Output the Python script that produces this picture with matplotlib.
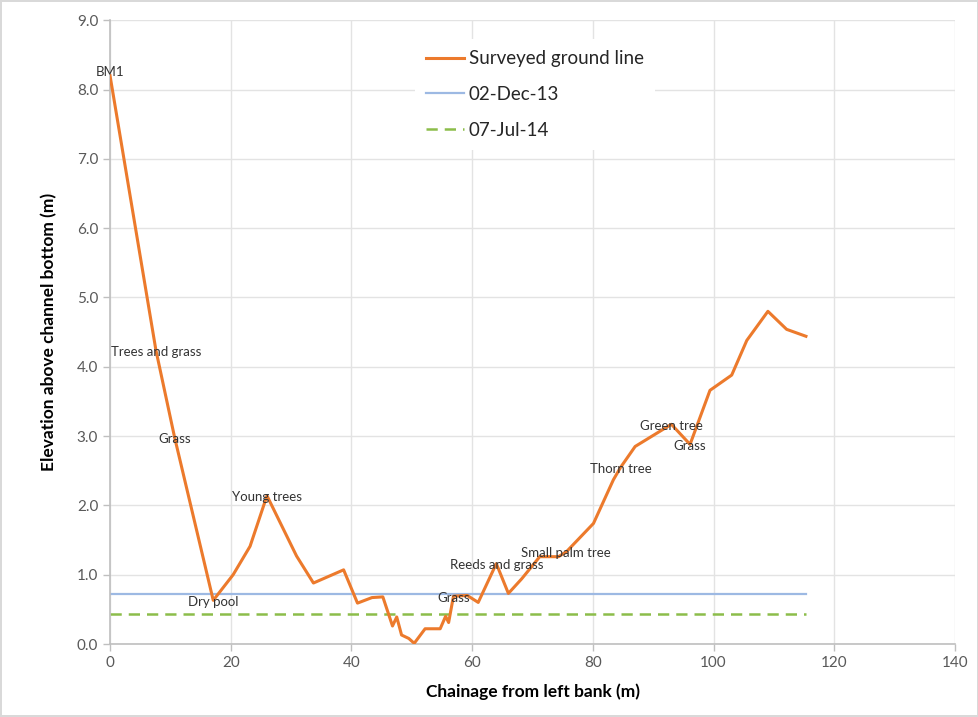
import matplotlib.pyplot as plt

plt.rcParams.update({
    "font.family": ["Lato", "DejaVu Sans"],
    "axes.edgecolor": "#bfbfbf",
    "xtick.color": "#bfbfbf", "ytick.color": "#bfbfbf",
    "xtick.labelcolor": "#595959", "ytick.labelcolor": "#595959",
})

# surveyed ground line (chainage m, elevation m)
chainage = [0.0, 7.6, 10.7, 17.1, 20.4, 23.2, 26.0, 30.9, 33.7, 38.7, 41.0,
            43.4, 45.2, 46.8, 47.5, 48.3, 49.5, 50.4, 52.2, 54.7, 55.6, 56.1,
            56.9, 59.2, 61.0, 64.0, 66.0, 68.2, 71.2, 74.3, 75.6, 80.1, 83.4,
            84.6, 87.0, 93.0, 96.1, 99.4, 103.0, 105.5, 109.0, 112.1, 115.3]
elevation = [8.2, 4.24, 2.98, 0.63, 1.0, 1.41, 2.14, 1.27, 0.88, 1.07, 0.59,
             0.67, 0.68, 0.26, 0.39, 0.13, 0.08, 0.01, 0.22, 0.22, 0.40, 0.31,
             0.69, 0.70, 0.60, 1.16, 0.73, 0.94, 1.26, 1.26, 1.33, 1.74, 2.37,
             2.55, 2.85, 3.17, 2.88, 3.66, 3.88, 4.38, 4.80, 4.54, 4.44]

# point labels: (index into the ground line, text)
point_labels = [(0, "BM1"), (1, "Trees and grass"), (2, "Grass"), (3, "Dry pool"),
                (6, "Young trees"), (22, "Grass"), (25, "Reeds and grass"),
                (30, "Small palm tree"), (33, "Thorn tree"), (35, "Green tree"),
                (36, "Grass")]

level_dec13 = 0.72
level_jul14 = 0.43

fig = plt.figure(figsize=(9.79, 7.17), dpi=100)
fig.patch.set_edgecolor("#d9d9d9")
fig.patch.set_linewidth(1.5)
ax = fig.add_axes([0.1124, 0.1018, 0.8631, 0.870])

ax.plot(chainage, elevation, color="#EC7A2C", lw=2.2, label="Surveyed ground line",
        zorder=3)
ax.plot([chainage[0], chainage[-1]], [level_dec13] * 2, color="#9DB9E3", lw=1.6,
        label="02-Dec-13", zorder=2)
ax.plot([chainage[0], chainage[-1]], [level_jul14] * 2, color="#8CBD4A", lw=1.8,
        ls=(0, (4.5, 2.8)), label="07-Jul-14", zorder=2)

for i, txt in point_labels:
    dy = 3 if i == 0 else -1
    ax.annotate(txt, (chainage[i], elevation[i]), xytext=(0, dy),
                textcoords="offset points", ha="center", va="center",
                fontsize=9.5, color="#333333", zorder=4)

ax.set_xlim(0, 140)
ax.set_ylim(0, 9)
ax.set_xticks(range(0, 141, 20))
ax.set_yticks([i * 1.0 for i in range(10)])
ax.yaxis.set_major_formatter(plt.FuncFormatter(lambda v, p: f"{v:.1f}"))
ax.tick_params(labelsize=11, length=5, width=1)
ax.grid(True, color="#e3e3e3", lw=1)
ax.set_axisbelow(True)
for s in ("top", "right"):
    ax.spines[s].set_visible(False)
ax.spines["left"].set_linewidth(1.2)
ax.spines["bottom"].set_linewidth(1.2)

ax.set_xlabel("Chainage from left bank (m)", fontsize=12.5, fontweight="bold",
              color="#000000", labelpad=10)
ax.set_ylabel("Elevation above channel bottom (m)", fontsize=12.5, fontweight="bold",
              color="#000000", labelpad=14)

leg = ax.legend(loc="upper left", bbox_to_anchor=(0.35, 0.985), fontsize=13.5,
                frameon=True, framealpha=1, edgecolor="none", fancybox=False,
                handlelength=2.0, handletextpad=0.25, labelspacing=1.0,
                borderpad=0.6)
leg.get_frame().set_linewidth(0)
for t in leg.get_texts():
    t.set_color("#262626")

fig.savefig("out.png", dpi=100)
